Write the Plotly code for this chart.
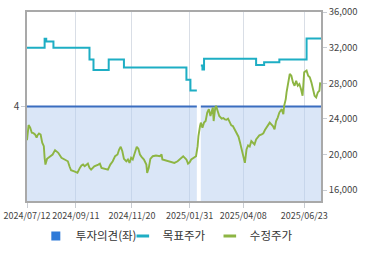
import plotly.graph_objects as go

# ---- data ----
price_dates = [
    "2024-07-12","2024-07-14","2024-07-16","2024-07-18","2024-07-20","2024-07-22","2024-07-24","2024-07-25",
    "2024-07-27","2024-07-29","2024-07-31","2024-08-02","2024-08-03","2024-08-04","2024-08-06","2024-08-09",
    "2024-08-13","2024-08-16","2024-08-20","2024-08-24","2024-08-28","2024-09-01","2024-09-03","2024-09-05",
    "2024-09-09","2024-09-12","2024-09-13","2024-09-16","2024-09-18","2024-09-20","2024-09-22","2024-09-26",
    "2024-09-28","2024-09-30","2024-10-04","2024-10-09","2024-10-11","2024-10-13","2024-10-17","2024-10-21",
    "2024-10-24","2024-10-27","2024-10-30","2024-11-02","2024-11-04","2024-11-06","2024-11-08","2024-11-10",
    "2024-11-13","2024-11-15","2024-11-17","2024-11-19","2024-11-21","2024-11-23","2024-11-26","2024-11-28",
    "2024-11-30","2024-12-02","2024-12-05","2024-12-08","2024-12-09","2024-12-11","2024-12-13","2024-12-16",
    "2024-12-20","2024-12-25","2024-12-27","2024-12-28","2024-12-31","2025-01-04","2025-01-08","2025-01-12",
    "2025-01-16","2025-01-20","2025-01-23","2025-01-25","2025-01-27","2025-01-29","2025-01-31","2025-02-02",
    "2025-02-05","2025-02-08","2025-02-10","2025-02-11","2025-02-13","2025-02-14","2025-02-16","2025-02-18",
    "2025-02-20","2025-02-22","2025-02-24","2025-02-26","2025-03-01","2025-03-02","2025-03-04","2025-03-05",
    "2025-03-07","2025-03-09","2025-03-12","2025-03-14","2025-03-16","2025-03-18","2025-03-20","2025-03-22",
    "2025-03-24","2025-03-26","2025-03-29","2025-03-31","2025-04-02","2025-04-04","2025-04-06","2025-04-08",
    "2025-04-10","2025-04-12","2025-04-14","2025-04-16","2025-04-18","2025-04-20","2025-04-22","2025-04-24",
    "2025-04-26","2025-04-28","2025-05-01","2025-05-03","2025-05-05","2025-05-07","2025-05-09","2025-05-11",
    "2025-05-13","2025-05-15","2025-05-17","2025-05-19","2025-05-21","2025-05-23","2025-05-26","2025-05-28",
    "2025-05-29","2025-05-31","2025-06-01","2025-06-03","2025-06-05","2025-06-07","2025-06-09","2025-06-11",
    "2025-06-13","2025-06-15","2025-06-17","2025-06-19","2025-06-21","2025-06-23","2025-06-26","2025-06-28",
    "2025-06-30","2025-07-02","2025-07-04","2025-07-06","2025-07-08","2025-07-10","2025-07-12","2025-07-13",
]
price_values = [
    21600,23300,23020,22450,22400,22260,21890,22150,
    22370,22250,21320,20940,19630,18870,19510,19700,
    20000,20490,20190,19630,19440,19240,18680,18230,
    18110,17930,17950,18500,18760,18870,18680,18980,
    18500,18300,18680,18870,18980,18500,18380,18300,
    18870,19240,19810,20000,20560,20870,20370,19510,
    19240,19440,19060,19630,19440,20000,20870,20640,
    20000,19740,19440,18870,17930,18500,19510,19810,
    19890,19810,20000,19440,19360,19240,19130,19060,
    19240,19630,19810,19630,19440,18980,19130,19440,
    19630,19810,20940,22070,23200,23580,23020,23580,
    23760,24710,25090,24330,25270,23760,25270,25460,
    24890,24330,24030,24100,23950,23900,24030,23580,
    23280,23200,22630,22260,22000,21320,20560,20000,
    19060,20560,21020,20900,21500,21320,21130,21700,
    22000,22150,22260,22370,22750,23020,23200,23580,
    23390,23200,22830,23760,24150,24710,25090,24520,
    25460,26220,26970,27910,29040,28850,28100,27720,
    28290,27720,27910,27350,26590,29230,29420,28850,
    28670,28100,27350,26590,26400,26970,27160,28100,
]

target_dates = [
    "2024-07-12","2024-08-03","2024-08-05","2024-08-14","2024-09-28","2024-10-03","2024-10-22",
    "2024-11-10","2025-01-27","2025-02-01","2025-02-09","2025-02-10","2025-02-14","2025-02-16",
    "2025-02-18","2025-04-24","2025-05-04","2025-05-23","2025-06-26","2025-07-14",
]
target_values = [
    32000,33000,32700,32000,30660,29500,30660,
    29760,28400,27180,27180,None,29990,29540,
    30740,30060,30360,30660,33020,33020,
]

opinion_dates = ["2024-07-12", "2025-02-09", "2025-02-11", "2025-02-14", "2025-07-14"]
opinion_values = [4, 4, None, 4, 4]

tick_dates = ["2024-07-12", "2024-09-11", "2024-11-20", "2025-01-31", "2025-04-08", "2025-06-23"]
tick_labels = ["2024/07/12", "2024/09/11", "2024/11/20", "2025/01/31", "2025/04/08", "2025/06/23"]
right_ticks = [16000, 20000, 24000, 28000, 32000, 36000]
left_ticks = [4]

names = ["투자의견(좌)", "목표주가", "수정주가"]
C_OPN, C_FILL, C_TGT, C_PRC = "#3a6dbf", "rgba(182,205,240,0.5)", "#1eaec4", "#8db543"
C_LEG_OPN = "#2f7ad8"
FONT = "Noto Sans CJK KR"

# split the opinion series into continuous segments (gaps = None)
segments, cur = [], ([], [])
for d, v in zip(opinion_dates, opinion_values):
    if v is None:
        if cur[0]:
            segments.append(cur)
        cur = ([], [])
    else:
        cur[0].append(d)
        cur[1].append(v)
if cur[0]:
    segments.append(cur)

fig = go.Figure()
for sx, sy in segments:
    fig.add_trace(go.Scatter(x=sx, y=sy, mode="lines", fill="tozeroy",
                             fillcolor=C_FILL, line=dict(color=C_OPN, width=2.2),
                             showlegend=False, hoverinfo="skip", yaxis="y"))
fig.add_trace(go.Scatter(x=target_dates, y=target_values, mode="lines", line_shape="hv",
                         line=dict(color=C_TGT, width=2), connectgaps=False,
                         showlegend=False, yaxis="y2"))
fig.add_trace(go.Scatter(x=price_dates, y=price_values, mode="lines",
                         line=dict(color=C_PRC, width=1.9), showlegend=False, yaxis="y2"))

# legend entries
fig.add_trace(go.Scatter(x=[None], y=[None], mode="markers", name=names[0],
                         marker=dict(symbol="square", size=9, color=C_LEG_OPN), yaxis="y2"))
fig.add_trace(go.Scatter(x=[None], y=[None], mode="markers", name=names[1],
                         marker=dict(symbol="line-ew", size=9, line=dict(color=C_TGT, width=3)), yaxis="y2"))
fig.add_trace(go.Scatter(x=[None], y=[None], mode="markers", name=names[2],
                         marker=dict(symbol="line-ew", size=9, line=dict(color=C_PRC, width=3)), yaxis="y2"))

axis_line = "#a9a9a9"
tfont = dict(family=FONT, size=9, color="#444")
fig.update_layout(
    template="none",
    width=370, height=255,
    margin=dict(l=27, r=49, t=12, b=54, autoexpand=False),
    paper_bgcolor="white", plot_bgcolor="white",
    font=dict(family=FONT, size=10, color="#444"),
    xaxis=dict(type="date", range=["2024-07-12", "2025-07-14"],
               tickvals=tick_dates, ticktext=tick_labels, tickangle=0,
               showgrid=True, gridcolor="#d9dee6", gridwidth=1,
               showline=True, linecolor=axis_line, linewidth=1.5, mirror=True,
               ticks="outside", ticklen=5, tickcolor="#c8ccd2",
               tickfont=tfont, automargin=False, zeroline=False),
    yaxis=dict(range=[0, 8], tickvals=left_ticks, ticktext=["4"],
               showgrid=False, zeroline=False,
               showline=True, linecolor=axis_line, linewidth=1.5,
               ticks="outside", ticklen=4, tickcolor="#c8ccd2",
               tickfont=dict(family=FONT, size=10, color="#444"), automargin=False),
    yaxis2=dict(range=[14780, 36000], overlaying="y", side="right",
                tickvals=right_ticks, tickformat=",d",
                showgrid=False, zeroline=False,
                showline=True, linecolor=axis_line, linewidth=1.5,
                ticks="outside", ticklen=4, tickcolor="#c8ccd2",
                tickfont=dict(family=FONT, size=9.5, color="#444"), automargin=False),
    legend=dict(orientation="h", x=0.03, xanchor="left", y=-0.185, yanchor="middle",
                font=dict(family=FONT, size=11.5, color="#333"),
                itemwidth=30, entrywidth=42, entrywidthmode="pixels",
                bgcolor="rgba(0,0,0,0)"),
    hovermode=False,
)

fig.write_html("out.html", config={"displayModeBar": False},
               post_script="document.body.style.margin='0';")
